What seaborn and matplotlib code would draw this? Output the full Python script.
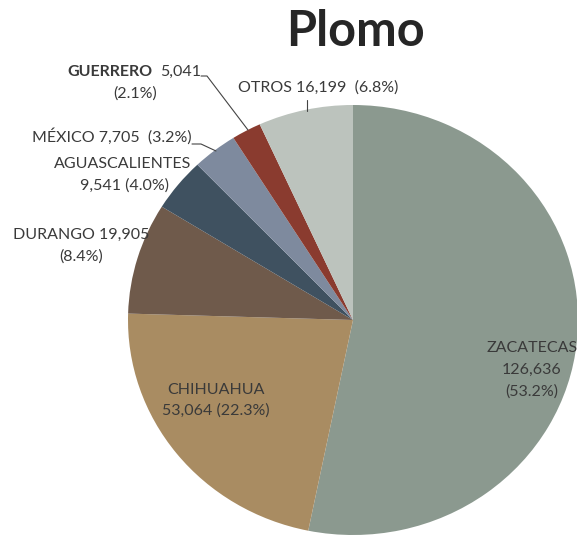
import matplotlib
matplotlib.use("Agg")
import matplotlib.pyplot as plt
import seaborn as sns

# data
states = ['ZACATECAS', 'CHIHUAHUA', 'DURANGO', 'AGUASCALIENTES', 'MÉXICO', 'GUERRERO', 'OTROS']
tonnes = [126636, 53064, 19905, 9541, 7705, 5041, 16199]
shares = [53.2, 22.3, 8.4, 4.0, 3.2, 2.1, 6.8]
colors = ['#8b998f', '#a98c62', '#6f5a4b', '#3f5160', '#7e8a9e', '#8a3b2f', '#bcc3bd']

sns.set_style("white")
plt.rcParams['font.family'] = ['Lato', 'DejaVu Sans']

W, H = 577, 537
fig = plt.figure(figsize=(W / 100, H / 100), dpi=100)

# pie axes: unit pie, limits chosen so the centre lands at (353, 320) px
cx, cy, rx, ry = 353, 320, 225, 215
pax = fig.add_axes([0, 0, 1, 1])
pax.pie(tonnes, colors=colors, startangle=90, counterclock=False,
        wedgeprops=dict(linewidth=0))
pax.set_aspect('auto')
pax.set_xlim(-cx / rx, (W - cx) / rx)
pax.set_ylim((cy - H) / ry, cy / ry)
pax.axis('off')

# overlay in pixel coordinates for texts and leader lines
ax = fig.add_axes([0, 0, 1, 1], facecolor='none')
ax.set_xlim(0, W)
ax.set_ylim(H, 0)
ax.axis('off')

txt = '#3a3a3a'
fs = 11.5

def fmt(i):
    return f"{tonnes[i]:,}", f"({shares[i]:.1f}%)"

ax.text(355, 31, 'Plomo', ha='center', va='center', fontsize=35,
        fontweight='bold', color='#262626')

# GUERRERO
v, p = fmt(5)
ax.text(153, 72, states[5], ha='right', va='center', fontsize=fs,
        fontweight='bold', color=txt)
ax.text(160, 72, v, ha='left', va='center', fontsize=fs, color=txt)
ax.text(135, 94, p, ha='center', va='center', fontsize=fs, color=txt)
ax.plot([201, 207, 248], [76, 76, 130], color='#444444', lw=0.8)

# OTROS
v, p = fmt(6)
ax.text(238, 88, f"{states[6]} {v}  {p}", ha='left', va='center', fontsize=fs, color=txt)
ax.plot([307, 307], [100, 111], color='#444444', lw=0.8)

# MÉXICO
v, p = fmt(4)
ax.text(192, 136, f"{states[4]} {v}  {p}", ha='right', va='center', fontsize=fs, color=txt)
ax.plot([192, 201, 216], [144, 144, 151], color='#444444', lw=0.8)

# AGUASCALIENTES
v, p = fmt(3)
ax.text(123, 164, states[3], ha='center', va='center', fontsize=fs, color=txt)
ax.text(124, 186, f"{v} {p}", ha='center', va='center', fontsize=fs, color=txt)

# DURANGO
v, p = fmt(2)
ax.text(81, 235, f"{states[2]} {v}", ha='center', va='center', fontsize=fs, color=txt)
ax.text(81, 257, p, ha='center', va='center', fontsize=fs, color=txt)

# CHIHUAHUA
v, p = fmt(1)
ax.text(216, 390, states[1], ha='center', va='center', fontsize=fs, color=txt)
ax.text(216, 411, f"{v} {p}", ha='center', va='center', fontsize=fs, color=txt)

# ZACATECAS
v, p = fmt(0)
ax.text(532, 348, states[0], ha='center', va='center', fontsize=fs, color=txt)
ax.text(532, 370, v, ha='center', va='center', fontsize=fs, color=txt)
ax.text(532, 392, p, ha='center', va='center', fontsize=fs, color=txt)

fig.savefig('out.png', dpi=100)
